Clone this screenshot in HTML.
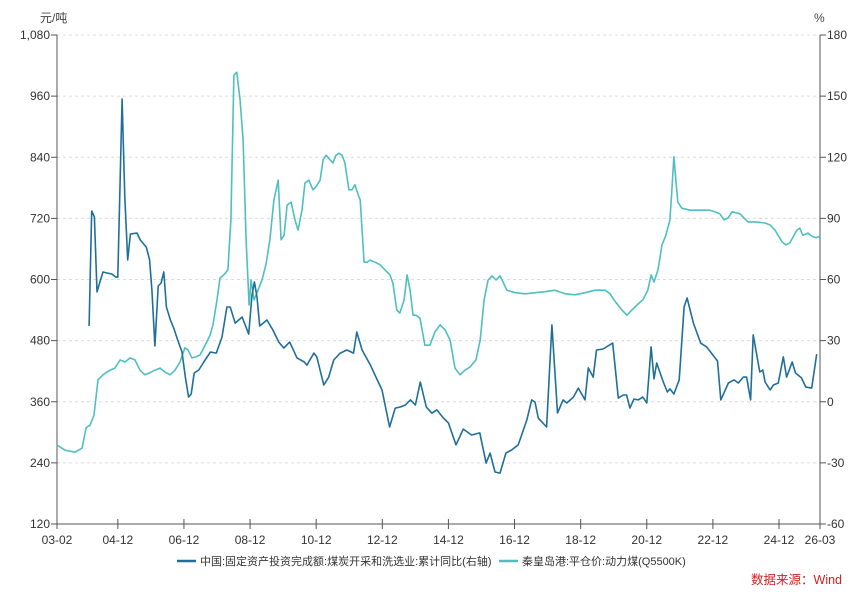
<!DOCTYPE html>
<html><head><meta charset="utf-8">
<style>
html,body{margin:0;padding:0;background:#fff;}
svg{display:block;font-family:"Liberation Sans","Noto Sans CJK SC",sans-serif;}
</style></head>
<body>
<svg id="chart" width="865" height="599" viewBox="0 0 865 599">
<g id="grid"></g>
<g id="axes"></g>
<g id="series"></g>
<text x="40" y="22" font-size="12" fill="#444">元/吨</text>
<text x="814" y="22" font-size="12" fill="#444">%</text>
<g>
  <g>
    <line x1="177" y1="561" x2="196" y2="561" stroke="#1f6f9a" stroke-width="2.5"/>
    <text x="200" y="565" font-size="11" fill="#333">中国:固定资产投资完成额:煤炭开采和洗选业:累计同比(右轴)</text>
  </g>
  <g>
    <line x1="499" y1="561" x2="518" y2="561" stroke="#4fbfc0" stroke-width="2.5"/>
    <text x="522" y="565" font-size="11" fill="#333">秦皇岛港:平仓价:动力煤(Q5500K)</text>
  </g>
</g>
<text x="842" y="584" font-size="12.5" fill="#d42020" text-anchor="end">数据来源：Wind</text>
</svg>
<script>
const xTickLabels = ["03-02","04-12","06-12","08-12","10-12","12-12","14-12","16-12","18-12","20-12","22-12","24-12","26-03"];
const xTickDates = [2003.08,2004.92,2006.92,2008.92,2010.92,2012.92,2014.92,2016.92,2018.92,2020.92,2022.92,2024.92,2026.16];
const leftTicks = [120,240,360,480,600,720,840,960,1080];
const leftTickLabels = ["120","240","360","480","600","720","840","960","1,080"];
const rightTicks = [-60,-30,0,30,60,90,120,150,180];

const priceDates = [2003.08,2003.32,2003.62,2003.84,2003.96,2004.08,2004.20,2004.32,2004.47,2004.68,2004.83,2004.99,2005.14,2005.29,2005.44,2005.59,2005.74,2005.89,2006.04,2006.20,2006.35,2006.50,2006.65,2006.80,2006.95,2007.04,2007.16,2007.28,2007.41,2007.56,2007.71,2007.80,2007.92,2008.01,2008.13,2008.25,2008.34,2008.43,2008.52,2008.62,2008.71,2008.80,2008.89,2008.95,2009.04,2009.16,2009.28,2009.40,2009.52,2009.64,2009.77,2009.86,2009.95,2010.04,2010.16,2010.28,2010.37,2010.49,2010.58,2010.70,2010.82,2010.91,2011.04,2011.13,2011.22,2011.34,2011.43,2011.52,2011.61,2011.70,2011.79,2011.91,2012.00,2012.09,2012.19,2012.25,2012.37,2012.46,2012.55,2012.70,2012.85,2013.00,2013.15,2013.24,2013.36,2013.45,2013.58,2013.67,2013.76,2013.85,2013.94,2014.06,2014.21,2014.36,2014.51,2014.67,2014.82,2014.97,2015.12,2015.27,2015.42,2015.57,2015.75,2015.88,2016.00,2016.12,2016.24,2016.36,2016.48,2016.57,2016.69,2016.94,2017.24,2017.54,2017.84,2018.14,2018.45,2018.75,2019.05,2019.36,2019.66,2019.81,2019.93,2020.05,2020.17,2020.32,2020.47,2020.62,2020.80,2020.95,2021.05,2021.14,2021.26,2021.38,2021.50,2021.62,2021.68,2021.74,2021.80,2021.86,2021.98,2022.23,2022.53,2022.83,2022.98,2023.13,2023.26,2023.38,2023.50,2023.74,2023.98,2024.22,2024.50,2024.65,2024.80,2025.01,2025.13,2025.25,2025.46,2025.55,2025.64,2025.80,2025.92,2026.04,2026.16];
const priceValues = [275,265,261,269,309,314,334,403,413,422,426,442,438,446,442,422,413,417,422,426,418,413,422,438,466,462,446,448,452,471,491,511,560,603,609,619,717,1001,1007,952,874,678,550,599,560,579,599,629,678,756,795,678,687,746,752,717,697,736,789,795,776,782,795,835,844,835,829,844,848,844,829,776,776,786,766,756,634,634,638,634,629,619,609,593,540,534,560,609,579,530,530,524,471,471,497,511,501,481,426,413,422,428,442,481,560,599,607,599,607,595,579,574,572,574,576,579,572,570,574,579,579,572,560,550,540,530,540,550,560,579,609,595,619,668,687,717,776,841,795,752,740,736,736,736,733,729,717,721,733,729,713,713,711,707,697,674,668,672,697,701,687,691,685,682,685];

const investDates = [2004.05,2004.13,2004.21,2004.29,2004.37,2004.47,2004.59,2004.74,2004.86,2004.92,2005.05,2005.13,2005.22,2005.30,2005.50,2005.60,2005.78,2005.88,2005.95,2006.04,2006.14,2006.23,2006.31,2006.39,2006.51,2006.61,2006.73,2006.86,2006.96,2007.06,2007.14,2007.23,2007.37,2007.52,2007.72,2007.90,2008.07,2008.22,2008.32,2008.47,2008.68,2008.88,2008.98,2009.05,2009.13,2009.21,2009.43,2009.61,2009.79,2009.94,2010.12,2010.34,2010.56,2010.64,2010.85,2010.94,2011.15,2011.30,2011.45,2011.65,2011.85,2012.05,2012.15,2012.31,2012.56,2012.81,2012.91,2013.14,2013.31,2013.46,2013.62,2013.77,2013.92,2014.07,2014.25,2014.42,2014.57,2014.77,2014.92,2015.15,2015.37,2015.62,2015.87,2016.06,2016.18,2016.33,2016.48,2016.66,2016.83,2017.03,2017.29,2017.44,2017.54,2017.64,2017.89,2018.05,2018.22,2018.39,2018.50,2018.70,2018.85,2019.05,2019.15,2019.30,2019.40,2019.60,2019.89,2020.06,2020.21,2020.31,2020.41,2020.53,2020.66,2020.80,2020.92,2021.05,2021.14,2021.22,2021.42,2021.54,2021.62,2021.74,2021.90,2022.05,2022.14,2022.33,2022.55,2022.73,2023.06,2023.16,2023.39,2023.56,2023.69,2023.84,2023.94,2024.06,2024.14,2024.34,2024.43,2024.50,2024.65,2024.75,2024.90,2025.05,2025.15,2025.32,2025.42,2025.60,2025.73,2025.91,2026.06];
const investValues = [37.2,93.6,90.7,53.9,58.3,63.7,63.2,62.7,61.2,61.2,148.6,100.5,69.6,82.3,82.8,79.4,75.9,69.6,54.9,27.4,56.8,58.3,63.7,46.5,40.1,36.2,30.3,24.4,12.2,2.3,3.8,14.1,15.6,19.5,24.4,23.9,31.8,46.5,46.5,38.6,41.6,33.2,52.4,58.8,51.4,37.2,40.1,35.2,29.3,26.4,29.3,21.5,19.5,18.0,23.9,22.0,8.2,12.1,20.5,23.9,25.4,23.9,34.2,25.4,18.0,9.2,5.8,-12.4,-3.1,-2.6,-1.6,0.9,-1.6,9.7,-2.6,-5.6,-4.0,-8.0,-10.4,-21.2,-13.4,-16.3,-15.3,-30.1,-25.2,-34.5,-35.0,-25.2,-23.7,-21.2,-9.0,0.9,-0.1,-8.0,-12.4,37.7,-5.5,0.9,-0.6,2.3,6.7,0.9,16.6,12.1,25.4,25.9,28.8,1.8,3.3,3.3,-3.1,1.3,0.9,2.3,-0.6,26.9,11.2,19.0,9.7,4.8,6.3,3.8,10.7,46.5,50.9,38.6,28.8,26.9,20.0,0.9,9.2,10.7,9.2,12.1,12.1,0.9,32.8,14.6,15.6,9.7,5.8,8.2,9.2,22.0,12.1,19.5,14.1,11.7,7.2,6.7,23.4];

const X0=57,X1=820,Y0=524,Y1=35,T0=2003.08,T1=2026.16;
function xs(t){return X0+(t-T0)/(T1-T0)*(X1-X0);}
function yl(v){return Y0-(v-120)/(1080-120)*(Y0-Y1);}
function yr(v){return Y0-(v+60)/(180+60)*(Y0-Y1);}
const NS="http://www.w3.org/2000/svg";
function mk(tag,attrs,parent){const e=document.createElementNS(NS,tag);for(const k in attrs)e.setAttribute(k,attrs[k]);parent.appendChild(e);return e;}
const grid=document.getElementById('grid'),axes=document.getElementById('axes'),ser=document.getElementById('series');

leftTicks.forEach((v,i)=>{
  const y=yl(v);
  if(i>0){const g=mk('line',{x1:X0,x2:X1,y1:y,y2:y,stroke:'#dcdcdc','stroke-dasharray':'3,3'},grid);
  
  }
  mk('line',{x1:X0-6,x2:X0,y1:y,y2:y,stroke:'#555'},axes);
  const t=mk('text',{x:X0-7,y:y+4,'font-size':12,fill:'#333','text-anchor':'end'},axes);
  t.textContent=leftTickLabels[i];
  
  
});
rightTicks.forEach(v=>{
  const y=yr(v);
  mk('line',{x1:X1,x2:X1+6,y1:y,y2:y,stroke:'#555'},axes);
  const t=mk('text',{x:X1+7,y:y+4,'font-size':12,fill:'#333'},axes);
  t.textContent=String(v);
  
  
});
mk('line',{x1:X0,x2:X0,y1:Y1,y2:Y0,stroke:'#555'},axes);
mk('line',{x1:X1,x2:X1,y1:Y1,y2:Y0,stroke:'#555'},axes);
mk('line',{x1:X0,x2:X1,y1:Y0,y2:Y0,stroke:'#555'},axes);
xTickDates.forEach((d,i)=>{
  const x=xs(d);
  mk('line',{x1:x,x2:x,y1:Y0-5,y2:Y0+5,stroke:'#555'},axes);
  const t=mk('text',{x:x,y:Y0+20,'font-size':12,fill:'#333','text-anchor':'middle'},axes);
  t.textContent=xTickLabels[i];
  
  
});
const pp=priceDates.map((d,i)=>xs(d).toFixed(1)+','+yl(priceValues[i]).toFixed(1)).join(' ');
const p1=mk('polyline',{points:pp,fill:'none',stroke:'#4fbfc0','stroke-width':1.6,'stroke-linejoin':'round'},ser);


const ip=investDates.map((d,i)=>xs(d).toFixed(1)+','+yr(investValues[i]).toFixed(1)).join(' ');
const p2=mk('polyline',{points:ip,fill:'none',stroke:'#1f6f9a','stroke-width':1.6,'stroke-linejoin':'round'},ser);


</script>
</body></html>
